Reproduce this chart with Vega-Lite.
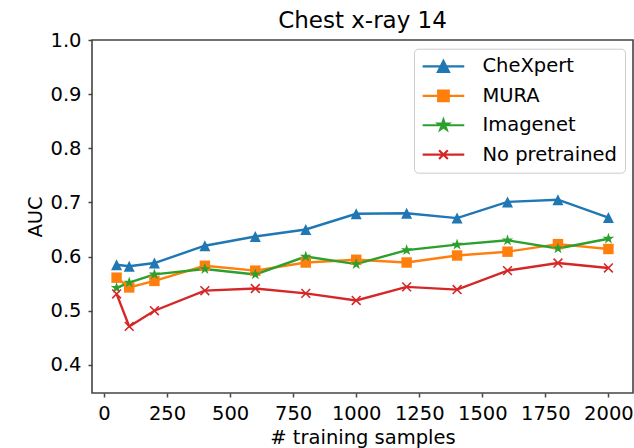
{
  "$schema": "https://vega.github.io/schema/vega-lite/v6.json",
  "width": 541,
  "height": 353,
  "autosize": {"type": "none"},
  "padding": {"left": 92, "top": 40, "right": 1, "bottom": 55},
  "background": "white",
  "title": {"text": "Chest x-ray 14", "fontSize": 23, "fontWeight": "normal", "color": "#000", "anchor": "middle", "offset": -3, "font": "DejaVu Sans"},
  "data": {"values": [
    {"n": 50, "model": "CheXpert", "auc": 0.585},
    {"n": 100, "model": "CheXpert", "auc": 0.582},
    {"n": 200, "model": "CheXpert", "auc": 0.588},
    {"n": 400, "model": "CheXpert", "auc": 0.620},
    {"n": 600, "model": "CheXpert", "auc": 0.637},
    {"n": 800, "model": "CheXpert", "auc": 0.650},
    {"n": 1000, "model": "CheXpert", "auc": 0.679},
    {"n": 1200, "model": "CheXpert", "auc": 0.680},
    {"n": 1400, "model": "CheXpert", "auc": 0.671},
    {"n": 1600, "model": "CheXpert", "auc": 0.701},
    {"n": 1800, "model": "CheXpert", "auc": 0.705},
    {"n": 2000, "model": "CheXpert", "auc": 0.672},
    {"n": 50, "model": "MURA", "auc": 0.561},
    {"n": 100, "model": "MURA", "auc": 0.543},
    {"n": 200, "model": "MURA", "auc": 0.555},
    {"n": 400, "model": "MURA", "auc": 0.583},
    {"n": 600, "model": "MURA", "auc": 0.574},
    {"n": 800, "model": "MURA", "auc": 0.589},
    {"n": 1000, "model": "MURA", "auc": 0.594},
    {"n": 1200, "model": "MURA", "auc": 0.589},
    {"n": 1400, "model": "MURA", "auc": 0.602},
    {"n": 1600, "model": "MURA", "auc": 0.609},
    {"n": 1800, "model": "MURA", "auc": 0.623},
    {"n": 2000, "model": "MURA", "auc": 0.614},
    {"n": 50, "model": "Imagenet", "auc": 0.542},
    {"n": 100, "model": "Imagenet", "auc": 0.552},
    {"n": 200, "model": "Imagenet", "auc": 0.567},
    {"n": 400, "model": "Imagenet", "auc": 0.577},
    {"n": 600, "model": "Imagenet", "auc": 0.567},
    {"n": 800, "model": "Imagenet", "auc": 0.600},
    {"n": 1000, "model": "Imagenet", "auc": 0.586},
    {"n": 1200, "model": "Imagenet", "auc": 0.612},
    {"n": 1400, "model": "Imagenet", "auc": 0.622},
    {"n": 1600, "model": "Imagenet", "auc": 0.630},
    {"n": 1800, "model": "Imagenet", "auc": 0.615},
    {"n": 2000, "model": "Imagenet", "auc": 0.633},
    {"n": 50, "model": "No pretrained", "auc": 0.531},
    {"n": 100, "model": "No pretrained", "auc": 0.471},
    {"n": 200, "model": "No pretrained", "auc": 0.500},
    {"n": 400, "model": "No pretrained", "auc": 0.537},
    {"n": 600, "model": "No pretrained", "auc": 0.541},
    {"n": 800, "model": "No pretrained", "auc": 0.532},
    {"n": 1000, "model": "No pretrained", "auc": 0.519},
    {"n": 1200, "model": "No pretrained", "auc": 0.544},
    {"n": 1400, "model": "No pretrained", "auc": 0.539},
    {"n": 1600, "model": "No pretrained", "auc": 0.574},
    {"n": 1800, "model": "No pretrained", "auc": 0.588},
    {"n": 2000, "model": "No pretrained", "auc": 0.579}
  ]},
  "encoding": {
    "x": {"field": "n", "type": "quantitative", "title": "# training samples",
      "scale": {"domain": [-47.5, 2097.5], "nice": false, "zero": false},
      "axis": {"values": [0, 250, 500, 750, 1000, 1250, 1500, 1750, 2000], "format": "d", "titlePadding": 6}},
    "y": {"field": "auc", "type": "quantitative", "title": "AUC",
      "scale": {"domain": [0.348, 1.0], "nice": false, "zero": false},
      "axis": {"values": [0.4, 0.5, 0.6, 0.7, 0.8, 0.9, 1.0], "format": ".1f", "titlePadding": 4}}
  },
  "layer": [
    {
      "mark": {"type": "line", "strokeWidth": 2.4},
      "encoding": {
        "stroke": {"field": "model", "type": "nominal",
          "scale": {"domain": ["CheXpert", "MURA", "Imagenet", "No pretrained"], "range": ["#1f77b4", "#ff7f0e", "#2ca02c", "#d62728"]},
          "legend": {
            "title": null,
            "orient": "none",
            "legendX": 322,
            "legendY": 8.7,
            "padding": 8,
            "fillColor": "white",
            "strokeColor": "#cccccc",
            "cornerRadius": 4,
            "labelFontSize": 19.5,
            "labelFont": "DejaVu Sans",
            "labelColor": "#000",
            "symbolSize": 256,
            "symbolOffset": 11.7,
            "labelOffset": 29.3,
            "rowPadding": 8.4,
            "symbolStrokeWidth": 2.2,
            "encode": {
              "symbols": {
                "update": {
                  "shape": {"signal": "datum.value === 'CheXpert' ? 'M-2.6,0H2.6M0,-0.69L0.69,0.69L-0.69,0.69Z' : datum.value === 'MURA' ? 'M-2.6,0H2.6M-0.66,-0.66H0.66V0.66H-0.66Z' : datum.value === 'Imagenet' ? 'M-2.6,0H2.6M0,-0.69L0.155,-0.213L0.656,-0.213L0.25,0.081L0.406,0.558L0,0.264L-0.406,0.558L-0.25,0.081L-0.656,-0.213L-0.155,-0.213Z' : 'M-2.6,0H2.6M-0.55,-0.55L0.55,0.55M-0.55,0.55L0.55,-0.55'"},
                  "fill": {"scale": "stroke", "field": "value"},
                  "stroke": {"scale": "stroke", "field": "value"},
                  "strokeWidth": {"value": 2.2},
                  "opacity": {"value": 1}
                }
              }
            }
          }
        }
      }
    },
    {
      "transform": [{"filter": "datum.model !== 'No pretrained'"}],
      "mark": {"type": "point", "filled": true, "size": 121, "strokeWidth": 0, "opacity": 1},
      "encoding": {
        "fill": {"field": "model", "type": "nominal",
          "scale": {"domain": ["CheXpert", "MURA", "Imagenet"], "range": ["#1f77b4", "#ff7f0e", "#2ca02c"]},
          "legend": null},
        "shape": {"field": "model", "type": "nominal",
          "scale": {"domain": ["CheXpert", "MURA", "Imagenet"],
            "range": ["M0,-1L1,1L-1,1Z", "M-0.95,-0.95H0.95V0.95H-0.95Z", "M0,-1.1L0.247,-0.34L1.046,-0.34L0.4,0.13L0.647,0.89L0,0.42L-0.647,0.89L-0.4,0.13L-1.046,-0.34L-0.247,-0.34Z"]},
          "legend": null}
      }
    },
    {
      "transform": [{"filter": "datum.model === 'No pretrained'"}],
      "mark": {"type": "point", "filled": false, "size": 121, "strokeWidth": 1.6, "opacity": 1, "stroke": "#d62728", "shape": "M-0.8,-0.8L0.8,0.8M-0.8,0.8L0.8,-0.8"}
    }
  ],
  "config": {
    "font": "DejaVu Sans",
    "view": {"stroke": "#444", "strokeWidth": 1.6},
    "axis": {
      "domain": false,
      "grid": false,
      "labelFontSize": 19.5,
      "titleFontSize": 19.5,
      "labelColor": "#000",
      "titleColor": "#000",
      "titleFontWeight": "normal",
      "labelFont": "DejaVu Sans",
      "titleFont": "DejaVu Sans",
      "tickColor": "#444",
      "tickSize": 4,
      "tickWidth": 1.5,
      "labelPadding": 7
    }
  }
}
